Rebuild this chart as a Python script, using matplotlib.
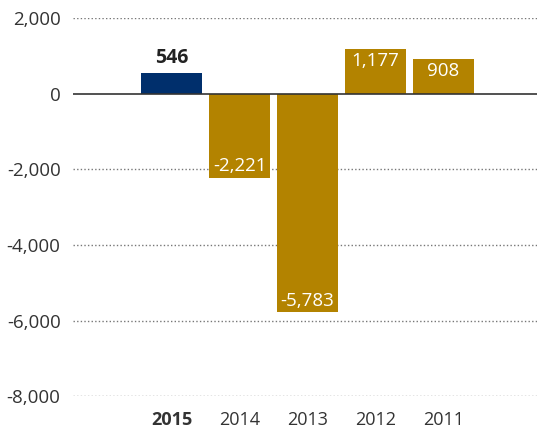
import matplotlib.pyplot as plt

plt.rcParams['font.family'] = ['Open Sans', 'DejaVu Sans']

years = ['2015', '2014', '2013', '2012', '2011']
values = [546, -2221, -5783, 1177, 908]
labels = ['546', '-2,221', '-5,783', '1,177', '908']
colors = ['#002f6c', '#b38300', '#b38300', '#b38300', '#b38300']

fig = plt.figure(figsize=(5.37, 4.32), dpi=100)
ax = fig.add_axes([0.136, 0.083, 0.864, 0.875])

x = list(range(len(years)))
bars = ax.bar(x, values, width=0.9, color=colors, zorder=3)

ax.set_xlim(-1.45, 5.375)
ax.set_ylim(-8000, 2000)
ticks = [2000, 0, -2000, -4000, -6000, -8000]
ax.set_yticks(ticks)
ax.set_yticklabels(['{:,}'.format(t) for t in ticks], fontsize=13.5, color='#333333')
for t in ticks:
    if t != 0:
        ax.axhline(t, color='#777777', linestyle=(0, (1, 1.6)), linewidth=1, zorder=1)
ax.axhline(0, color='#333333', linewidth=1.2, zorder=4)

ax.set_xticks(x)
ax.set_xticklabels(years, fontsize=13, color='#333333')
ax.get_xticklabels()[0].set_fontweight('bold')
ax.tick_params(length=0)
ax.tick_params(axis='y', pad=9)
ax.tick_params(axis='x', pad=11)
for s in ax.spines.values():
    s.set_visible(False)

for i, (v, lab) in enumerate(zip(values, labels)):
    if i == 0:
        ax.annotate(lab, (i, v), xytext=(0, 4), textcoords='offset points',
                    ha='center', va='bottom', fontsize=14, fontweight='bold', color='#222222')
    elif v > 0:
        ax.annotate(lab, (i, v), xytext=(0, -2), textcoords='offset points',
                    ha='center', va='top', fontsize=13.5, color='white', zorder=5)
    else:
        ax.annotate(lab, (i, v), xytext=(0, 2), textcoords='offset points',
                    ha='center', va='bottom', fontsize=13.5, color='white', zorder=5)

fig.savefig('out.png', dpi=100)
